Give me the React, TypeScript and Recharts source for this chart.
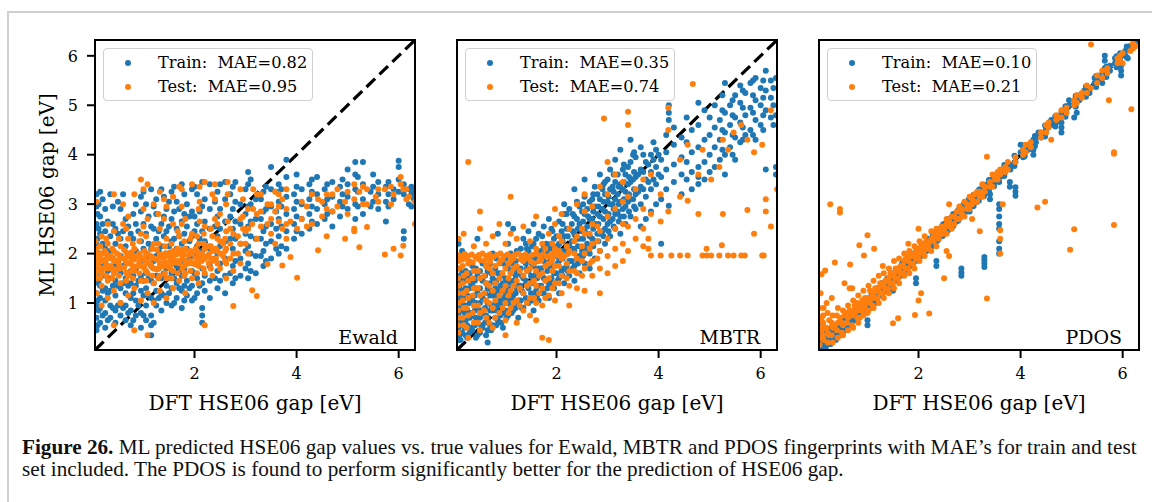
import { ScatterChart, Scatter, XAxis, YAxis, ReferenceLine } from 'recharts';

const BLUE = '#1f77b4';
const ORANGE = '#ff7f0e';
const SERIF = 'DejaVu Serif';

// each entry: [DFT gap, [ML predicted gaps at that DFT gap]]
type Cols = [number, number[]][];

const ewaldTrain: Cols = [
  [0.08, [0.45, 0.7, 0.95, 1.2, 1.5, 1.85, 2.2, 2.6, 2.95, 3.2]],
  [0.1, [0.55, 1.05, 1.6, 2.3, 2.8]],
  [0.12, [0.85, 1.4, 1.7, 2.5, 3.0]],
  [0.15, [0.6, 0.9, 1.1, 1.35, 1.65, 2.0, 2.4, 2.75, 3.25]],
  [0.2, [0.75, 1.25, 1.75, 2.2, 2.6, 3.1]],
  [0.25, [0.5, 0.8, 1.05, 1.3, 1.55, 1.8, 2.1, 2.45, 2.9]],
  [0.3, [0.65, 1.2, 1.65, 1.95, 2.65]],
  [0.35, [0.7, 0.95, 1.25, 1.5, 1.7, 2.05, 2.35, 3.2]],
  [0.4, [0.9, 1.35, 1.9, 2.6, 2.95]],
  [0.45, [0.6, 0.85, 1.15, 1.45, 1.75, 2.2, 2.5]],
  [0.5, [0.95, 1.35, 1.85, 2.4, 3.05]],
  [0.55, [0.75, 1.0, 1.3, 1.6, 1.95, 2.3, 2.9]],
  [0.6, [0.9, 1.4, 1.75, 2.45, 3.2]],
  [0.65, [0.65, 0.95, 1.2, 1.5, 1.8, 2.15, 2.7]],
  [0.7, [0.8, 1.35, 1.95, 2.55]],
  [0.75, [0.55, 0.85, 1.1, 1.4, 1.65, 2.0, 2.4]],
  [0.8, [0.65, 1.2, 1.55, 1.9, 2.3, 2.8]],
  [0.85, [0.75, 1.05, 1.35, 1.7, 2.05, 2.6, 3.0]],
  [0.9, [0.95, 1.45, 1.95, 2.45]],
  [0.95, [0.5, 0.8, 1.25, 1.55, 1.85, 2.25, 2.85, 3.15]],
  [1.0, [0.75, 1.15, 1.45, 2.1, 2.6, 3.25]],
  [1.05, [0.65, 0.95, 1.3, 1.6, 1.9, 2.4, 3.0]],
  [1.1, [1.15, 1.5, 2.2, 2.75]],
  [1.15, [0.35, 0.55, 0.75, 1.1, 1.45, 1.75, 2.1, 2.55, 3.3]],
  [1.2, [0.6, 1.05, 1.4, 1.85, 2.5, 2.95]],
  [1.25, [0.95, 1.25, 1.55, 1.95, 2.3, 2.8, 3.1]],
  [1.3, [1.1, 1.7, 2.05, 2.45]],
  [1.35, [0.85, 1.2, 1.5, 1.8, 2.15, 2.6, 3.3]],
  [1.4, [1.15, 1.6, 1.95, 2.35, 2.75, 3.15]],
  [1.45, [1.0, 1.35, 1.7, 2.0, 2.45, 2.9]],
  [1.5, [1.2, 1.5, 2.15, 2.55, 3.05]],
  [1.55, [0.95, 1.3, 1.6, 1.9, 2.25, 2.7, 3.25]],
  [1.6, [1.0, 1.5, 1.85, 2.3, 2.85, 3.35]],
  [1.65, [1.1, 1.4, 1.75, 2.1, 2.5, 3.05]],
  [1.7, [1.3, 1.65, 2.35, 2.9]],
  [1.75, [0.9, 1.25, 1.55, 1.85, 2.2, 2.65, 3.4]],
  [1.8, [1.05, 1.35, 1.7, 2.4, 2.8, 3.2]],
  [1.85, [1.15, 1.45, 1.8, 2.1, 2.55, 3.0]],
  [1.9, [1.3, 1.9, 2.25, 2.75]],
  [1.95, [1.05, 1.35, 1.65, 2.0, 2.35, 2.85, 3.3]],
  [2.0, [1.1, 1.6, 1.95, 2.45, 2.75, 3.35]],
  [2.05, [1.2, 1.5, 1.8, 2.15, 2.6, 3.2]],
  [2.1, [1.35, 1.95, 2.3, 2.85]],
  [2.15, [0.6, 0.75, 0.9, 1.4, 1.7, 2.05, 2.45, 2.95, 3.45]],
  [2.2, [1.25, 1.55, 1.9, 2.25, 2.65, 3.1]],
  [2.3, [1.1, 1.45, 1.75, 2.1, 2.5, 2.9, 3.4]],
  [2.4, [1.5, 1.9, 2.55, 3.05]],
  [2.45, [1.3, 1.65, 2.0, 2.35, 2.75, 3.25]],
  [2.5, [1.45, 1.8, 2.15, 2.5, 2.9, 3.4]],
  [2.6, [1.2, 1.55, 1.9, 2.25, 2.65, 3.1, 3.45]],
  [2.7, [1.6, 2.3, 2.75, 3.2]],
  [2.75, [1.4, 1.75, 2.1, 2.5, 2.9, 3.35]],
  [2.8, [1.5, 1.85, 2.3, 2.65, 3.05, 3.45]],
  [2.9, [1.55, 1.9, 2.2, 2.6, 3.0]],
  [3.0, [1.7, 2.05, 2.4, 2.8, 3.3]],
  [3.05, [1.5, 1.8, 2.15, 2.55, 2.95, 3.4, 3.65]],
  [3.1, [1.65, 2.0, 2.35, 2.65, 3.0, 3.5]],
  [3.2, [1.6, 1.95, 2.3, 2.7, 3.1]],
  [3.3, [1.95, 2.3, 2.7, 3.1]],
  [3.35, [1.75, 2.05, 2.45, 2.85, 3.25]],
  [3.4, [1.85, 2.2, 2.55, 2.9, 3.35]],
  [3.5, [1.9, 2.25, 2.6, 2.95, 3.3, 3.75]],
  [3.6, [2.1, 2.5, 2.85, 3.25]],
  [3.65, [2.0, 2.35, 2.7, 3.05, 3.4]],
  [3.7, [2.15, 2.55, 2.95, 3.3]],
  [3.8, [2.1, 2.45, 2.8, 3.15, 3.55, 3.9]],
  [3.95, [2.3, 2.6, 2.9, 3.2]],
  [4.0, [2.45, 2.75, 3.05, 3.35, 3.6]],
  [4.1, [2.4, 2.7, 3.0, 3.3]],
  [4.25, [2.5, 2.8, 3.1, 3.4]],
  [4.3, [2.65, 2.95, 3.25, 3.5]],
  [4.4, [2.6, 2.9, 3.2, 3.55]],
  [4.55, [2.7, 3.0, 3.3]],
  [4.6, [2.8, 3.1, 3.4]],
  [4.7, [2.55, 2.85, 3.15, 3.45]],
  [4.85, [2.75, 3.05, 3.35]],
  [4.9, [2.95, 3.2, 3.5]],
  [5.0, [2.9, 3.15, 3.4, 3.7]],
  [5.15, [2.7, 3.0, 3.3, 3.6, 3.85]],
  [5.2, [2.95, 3.25, 3.55]],
  [5.3, [2.8, 3.1, 3.4, 3.85]],
  [5.45, [2.95, 3.25]],
  [5.5, [3.05, 3.35, 3.6]],
  [5.6, [2.9, 3.2, 3.45]],
  [5.75, [2.65, 3.05, 3.35]],
  [5.8, [2.95, 3.2, 3.45]],
  [5.9, [3.1, 3.3]],
  [6.0, [3.25, 3.5, 3.75, 3.88]],
  [6.1, [2.3, 2.45, 3.2, 3.4]],
  [6.2, [3.0, 3.3]],
  [6.25, [2.95, 3.2, 3.35]],
  [6.3, [3.1, 3.25]],
];

const ewaldTest: Cols = [
  [0.06, [1.55, 1.8, 2.0, 2.25]],
  [0.08, [1.2, 1.5, 1.75, 1.9, 2.1, 3.05]],
  [0.12, [1.65, 1.82, 1.98]],
  [0.15, [1.5, 1.72, 1.92, 2.15]],
  [0.18, [0.95, 1.35, 1.6, 1.85, 2.0, 2.35]],
  [0.24, [1.7, 1.88, 2.05]],
  [0.27, [1.55, 1.78, 2.0, 2.3]],
  [0.3, [1.1, 1.45, 1.7, 1.9, 2.2, 2.6]],
  [0.36, [1.75, 1.95]],
  [0.39, [1.5, 1.7, 1.9, 2.1]],
  [0.42, [0.55, 1.25, 1.6, 1.85, 2.05, 2.45, 3.2]],
  [0.48, [1.68, 1.85, 2.0]],
  [0.52, [1.55, 1.78, 1.97, 2.3]],
  [0.55, [1.0, 1.4, 1.7, 1.9, 2.15]],
  [0.6, [2.6, 3.0]],
  [0.62, [1.72, 1.9, 2.08]],
  [0.66, [1.45, 1.62, 1.83, 2.02, 2.5]],
  [0.7, [1.15, 1.55, 1.8, 1.95, 2.3, 2.75]],
  [0.76, [1.65, 1.85, 2.02]],
  [0.79, [1.5, 1.75, 1.95, 2.2]],
  [0.82, [0.45, 1.3, 1.65, 1.88, 2.1, 3.2]],
  [0.88, [1.75, 1.95]],
  [0.92, [1.6, 1.82, 2.0, 2.25]],
  [0.95, [1.05, 1.45, 1.75, 1.92, 2.4, 3.5]],
  [1.0, [2.55, 2.9, 3.3]],
  [1.02, [1.7, 1.88, 2.05]],
  [1.05, [1.45, 1.65, 1.8, 1.98, 2.35]],
  [1.08, [0.35, 1.2, 1.6, 1.85, 2.0, 2.7, 3.4]],
  [1.14, [1.78, 1.95]],
  [1.17, [1.55, 1.72, 1.92, 2.1]],
  [1.2, [1.0, 1.4, 1.7, 1.9, 2.2, 3.0]],
  [1.26, [1.68, 1.88, 2.08]],
  [1.29, [1.5, 1.7, 1.9, 2.2, 2.8]],
  [1.32, [1.25, 1.55, 1.8, 1.98, 2.5, 3.25]],
  [1.38, [1.75, 1.92]],
  [1.4, [2.7, 3.1]],
  [1.42, [1.6, 1.83, 2.0, 2.15]],
  [1.45, [1.1, 1.5, 1.75, 1.95, 2.3, 2.95]],
  [1.52, [1.7, 1.85, 2.02]],
  [1.55, [1.5, 1.78, 1.95, 2.2]],
  [1.58, [1.3, 1.65, 1.9, 2.05, 2.6, 3.15]],
  [1.64, [1.82, 1.98]],
  [1.67, [1.6, 1.85, 2.1, 2.45]],
  [1.7, [1.45, 1.8, 2.0, 2.35, 3.35]],
  [1.75, [2.6, 2.95, 3.3]],
  [1.76, [1.7, 1.9, 2.08]],
  [1.8, [1.55, 1.75, 1.98, 2.25]],
  [1.82, [1.2, 1.6, 1.85, 2.1, 2.7]],
  [1.88, [1.8, 1.97]],
  [1.92, [1.65, 1.85, 2.05, 2.3]],
  [1.95, [1.5, 1.8, 2.0, 2.4, 3.4]],
  [2.02, [1.78, 1.92, 2.1]],
  [2.05, [1.6, 1.85, 2.05, 2.35]],
  [2.08, [1.4, 1.75, 1.95, 2.2, 2.9]],
  [2.1, [2.65, 3.05, 3.35]],
  [2.14, [1.85, 2.0]],
  [2.18, [1.7, 1.95, 2.2, 2.4]],
  [2.2, [0.55, 1.6, 1.9, 2.1, 2.55, 3.45]],
  [2.28, [1.8, 1.98, 2.15]],
  [2.32, [1.7, 1.9, 2.15, 2.5]],
  [2.35, [1.55, 1.85, 2.05, 2.35, 3.2]],
  [2.4, [2.7, 3.1, 3.4]],
  [2.42, [1.9, 2.1]],
  [2.45, [1.8, 2.05, 2.3, 2.6]],
  [2.5, [1.7, 2.0, 2.25, 2.8]],
  [2.56, [1.95, 2.2]],
  [2.6, [1.85, 2.05, 2.3]],
  [2.62, [1.5, 1.8, 2.1, 2.45, 3.0]],
  [2.65, [2.65, 3.2, 3.45]],
  [2.7, [1.9, 2.2, 2.5]],
  [2.76, [0.94, 1.65, 2.0, 2.4]],
  [2.85, [2.0, 2.35]],
  [2.9, [1.8, 2.2, 2.7, 3.3]],
  [2.95, [2.5, 2.75, 3.1]],
  [3.0, [2.2, 2.45]],
  [3.05, [2.0, 2.5, 2.9]],
  [3.13, [1.26, 2.6]],
  [3.15, [2.9, 3.3]],
  [3.22, [1.14, 2.3, 2.8, 3.2]],
  [3.3, [2.55, 2.85, 3.2]],
  [3.43, [1.79, 2.6, 3.0]],
  [3.5, [2.4, 2.7, 3.0]],
  [3.58, [2.2, 2.85, 3.25]],
  [3.65, [2.65, 2.95, 3.2]],
  [3.72, [1.76, 2.5, 3.1]],
  [3.8, [2.3, 2.6, 2.9, 3.3]],
  [3.88, [1.93, 2.65]],
  [4.01, [1.51, 2.5]],
  [4.1, [2.7, 3.05]],
  [4.2, [2.55, 2.95]],
  [4.3, [2.6, 3.2]],
  [4.42, [2.07, 3.1]],
  [4.5, [2.75, 3.05]],
  [4.59, [2.35, 2.9, 3.2]],
  [4.7, [2.85, 3.2]],
  [4.8, [2.95, 3.3]],
  [4.95, [2.3, 3.05]],
  [5.0, [2.8, 3.25]],
  [5.13, [2.45, 2.5, 3.1, 3.4]],
  [5.23, [2.13, 3.25]],
  [5.3, [3.0, 3.35]],
  [5.38, [2.54, 3.0, 3.3]],
  [5.55, [3.15]],
  [5.6, [3.05, 3.3]],
  [5.73, [1.98, 3.3]],
  [5.85, [3.0, 3.35]],
  [5.9, [2.1, 3.2]],
  [6.04, [1.96, 3.4, 3.55]],
  [6.09, [2.16, 3.3]],
  [6.15, [3.1, 3.3]],
  [6.2, [3.15]],
  [6.32, [2.6, 3.05]],
];

const mbtrTrain: Cols = [
  [0.06, [0.3, 0.6, 0.9, 1.2, 1.55, 1.9]],
  [0.08, [0.25, 0.5, 0.8, 1.1, 1.4, 2.2]],
  [0.1, [0.35, 0.7, 1.0, 1.3, 1.7]],
  [0.12, [0.25, 0.55, 0.85, 1.15, 1.5]],
  [0.15, [0.4, 0.65, 0.95, 1.25, 1.6, 2.05]],
  [0.2, [0.5, 0.8, 1.1, 1.45]],
  [0.22, [0.35, 0.65, 0.95, 1.3, 1.65]],
  [0.25, [0.3, 0.55, 0.85, 1.15, 1.5]],
  [0.3, [0.4, 0.7, 1.0, 1.3, 1.6]],
  [0.32, [0.5, 0.8, 1.1, 1.4]],
  [0.35, [0.45, 0.75, 1.05, 1.35, 1.75]],
  [0.4, [0.55, 0.85, 1.15, 1.45]],
  [0.42, [0.3, 0.7, 1.0, 1.3, 1.7]],
  [0.45, [0.35, 0.6, 0.9, 1.2, 1.55, 2.3]],
  [0.5, [0.4, 0.7, 1.0, 1.3, 1.65]],
  [0.52, [0.55, 0.85, 1.15, 1.5]],
  [0.55, [0.5, 0.8, 1.1, 1.45, 1.8]],
  [0.6, [0.6, 0.9, 1.2, 1.55]],
  [0.62, [0.35, 0.75, 1.05, 1.4, 1.75]],
  [0.65, [0.2, 0.45, 0.7, 1.0, 1.3, 1.65]],
  [0.7, [0.55, 0.85, 1.15, 1.4, 1.8]],
  [0.72, [0.45, 0.95, 1.25, 1.6]],
  [0.75, [0.55, 0.85, 1.15, 1.5, 2.0]],
  [0.8, [0.7, 1.0, 1.3, 1.7]],
  [0.82, [0.55, 0.85, 1.15, 1.45, 1.9]],
  [0.85, [0.65, 0.95, 1.25, 1.6, 2.4]],
  [0.9, [0.75, 1.05, 1.35, 1.6]],
  [0.92, [0.6, 0.95, 1.25, 1.55]],
  [0.95, [0.5, 0.8, 1.1, 1.4, 1.8]],
  [1.0, [0.85, 1.2, 1.5, 1.9]],
  [1.02, [0.7, 1.05, 1.4, 1.75]],
  [1.05, [0.75, 1.0, 1.3, 1.7, 2.2, 2.6]],
  [1.1, [0.95, 1.25, 1.6, 2.0]],
  [1.12, [0.8, 1.1, 1.4, 1.8]],
  [1.15, [0.85, 1.15, 1.45, 1.9, 2.5]],
  [1.2, [0.9, 1.2, 1.55, 1.85]],
  [1.22, [0.95, 1.3, 1.65, 2.05]],
  [1.25, [0.7, 1.05, 1.35, 1.6, 2.0]],
  [1.3, [1.05, 1.35, 1.7, 2.1]],
  [1.32, [0.9, 1.25, 1.55, 1.95]],
  [1.35, [0.9, 1.2, 1.5, 1.85, 2.3]],
  [1.4, [1.1, 1.45, 1.8, 2.2]],
  [1.42, [1.0, 1.35, 1.7, 2.1]],
  [1.45, [1.0, 1.3, 1.65, 2.05, 2.45]],
  [1.5, [1.2, 1.55, 1.9]],
  [1.52, [1.05, 1.4, 1.8, 2.15]],
  [1.55, [0.85, 1.15, 1.5, 1.75, 2.2, 2.6]],
  [1.6, [1.25, 1.6, 1.9, 2.3]],
  [1.62, [1.15, 1.5, 1.85]],
  [1.65, [1.05, 1.35, 1.7, 2.0, 2.4]],
  [1.7, [1.35, 1.7, 2.05]],
  [1.72, [1.2, 1.55, 1.95, 2.35]],
  [1.75, [1.2, 1.5, 1.85, 2.15, 2.55]],
  [1.8, [1.45, 1.8, 2.2]],
  [1.82, [1.3, 1.65, 2.0]],
  [1.85, [1.1, 1.4, 1.75, 2.1, 2.7]],
  [1.9, [1.5, 1.85, 2.2, 2.5]],
  [1.92, [1.4, 1.75, 2.1, 2.45]],
  [1.95, [1.3, 1.6, 1.95, 2.3]],
  [2.0, [1.6, 1.95, 2.35]],
  [2.02, [1.45, 1.8, 2.15]],
  [2.05, [1.2, 1.5, 1.85, 2.2, 2.65]],
  [2.1, [1.65, 2.05, 2.45]],
  [2.12, [1.55, 1.9, 2.25, 2.6]],
  [2.15, [1.4, 1.7, 2.0, 2.35, 2.8, 3.0]],
  [2.2, [1.75, 2.1, 2.5, 2.8]],
  [2.22, [1.65, 2.0, 2.35]],
  [2.25, [1.55, 1.85, 2.15, 2.5, 2.9]],
  [2.3, [1.85, 2.25, 2.6]],
  [2.32, [1.7, 2.1, 2.45, 2.8]],
  [2.35, [1.45, 1.75, 2.05, 2.4, 2.75, 3.3]],
  [2.4, [1.9, 2.3, 2.7, 3.05]],
  [2.42, [1.8, 2.15, 2.5]],
  [2.45, [1.6, 1.95, 2.3, 2.6, 2.95]],
  [2.5, [2.05, 2.45, 2.85]],
  [2.52, [1.95, 2.3, 2.65, 3.0]],
  [2.55, [1.8, 2.1, 2.45, 2.8, 3.15, 3.5]],
  [2.6, [2.2, 2.55, 2.9]],
  [2.62, [2.05, 2.4, 2.75]],
  [2.65, [1.7, 2.0, 2.35, 2.7, 3.05]],
  [2.7, [2.3, 2.7, 3.1]],
  [2.72, [2.15, 2.5, 2.85, 3.2]],
  [2.75, [1.9, 2.25, 2.6, 2.95, 3.35]],
  [2.8, [2.4, 2.8, 3.2]],
  [2.82, [2.25, 2.6, 2.95]],
  [2.85, [2.05, 2.4, 2.75, 3.1, 3.6]],
  [2.9, [2.45, 2.9, 3.3]],
  [2.92, [2.35, 2.7, 3.05, 3.4]],
  [2.95, [2.2, 2.5, 2.85, 3.2, 3.45]],
  [3.0, [2.6, 3.05, 3.5]],
  [3.02, [2.45, 2.8, 3.15]],
  [3.05, [2.35, 2.65, 3.0, 3.3, 3.7]],
  [3.1, [2.7, 3.0, 3.35]],
  [3.12, [2.55, 2.9, 3.25, 3.6]],
  [3.15, [2.5, 2.8, 3.1, 3.45, 3.9]],
  [3.2, [2.85, 3.2, 3.6]],
  [3.22, [2.65, 3.0, 3.35]],
  [3.25, [2.4, 2.75, 3.05, 3.4, 4.1]],
  [3.3, [2.9, 3.3, 3.7]],
  [3.32, [2.75, 3.1, 3.45, 3.8]],
  [3.35, [2.6, 2.95, 3.25, 3.6]],
  [3.4, [3.05, 3.4, 3.75]],
  [3.42, [2.85, 3.2, 3.55]],
  [3.45, [2.75, 3.1, 3.45, 3.85, 4.3]],
  [3.5, [3.1, 3.5, 4.0]],
  [3.52, [2.95, 3.3, 3.65, 4.05]],
  [3.55, [2.9, 3.2, 3.55, 3.95]],
  [3.6, [3.25, 3.6]],
  [3.65, [2.55, 3.0, 3.35, 3.7, 4.15]],
  [3.7, [3.3, 3.65, 4.0]],
  [3.75, [2.7, 3.15, 3.5, 3.85]],
  [3.8, [3.45, 3.8]],
  [3.85, [2.85, 3.3, 3.65, 4.0]],
  [3.9, [3.5, 3.9, 4.25]],
  [3.95, [3.0, 3.4, 3.75, 4.1]],
  [4.0, [3.6, 4.0]],
  [4.05, [2.2, 3.1, 3.55, 3.9]],
  [4.15, [3.3, 3.7, 4.05, 4.4]],
  [4.2, [2.97, 4.7, 4.85, 5.0]],
  [4.3, [3.45, 3.8, 4.2, 4.55]],
  [4.45, [3.2, 3.6, 3.95, 4.35]],
  [4.55, [3.5, 3.85, 4.25, 4.75]],
  [4.65, [3.3, 3.65, 4.05, 4.5]],
  [4.78, [3.41, 3.55, 3.75, 4.15, 4.6, 5.05]],
  [4.9, [3.5, 3.85, 4.3, 4.9]],
  [5.0, [3.65, 4.0, 4.4, 4.75]],
  [5.1, [3.75, 4.15, 4.55, 5.0]],
  [5.2, [3.9, 4.3, 4.7]],
  [5.25, [4.1, 4.5, 4.9, 5.2]],
  [5.3, [3.6, 4.0, 4.45, 4.85, 5.45]],
  [5.4, [4.15, 4.6, 5.0]],
  [5.45, [4.0, 4.4, 4.8, 5.1]],
  [5.5, [3.9, 4.35, 4.75, 5.2]],
  [5.6, [4.25, 4.65, 5.05, 5.4]],
  [5.65, [4.3, 4.55, 4.95, 5.3]],
  [5.7, [4.4, 4.8, 5.25]],
  [5.8, [4.5, 4.95, 5.45]],
  [5.85, [4.4, 4.85, 5.2, 5.5]],
  [5.9, [4.3, 4.7, 5.1, 5.55]],
  [6.0, [4.6, 5.0, 5.35]],
  [6.05, [4.5, 4.8, 5.15, 5.5]],
  [6.1, [3.7, 4.9, 5.3, 5.7]],
  [6.2, [4.75, 5.15, 5.5]],
  [6.25, [4.6, 5.0, 5.35]],
  [6.3, [3.6, 3.75, 4.8, 5.55]],
];

const mbtrTest: Cols = [
  [0.06, [1.97]],
  [0.07, [0.55, 0.85, 1.2, 1.5, 1.85]],
  [0.08, [0.4, 0.7, 1.0, 1.35, 1.7, 2.3]],
  [0.1, [1.86]],
  [0.13, [1.94]],
  [0.16, [0.7, 1.05, 1.4, 1.75, 1.88]],
  [0.18, [0.55, 0.9, 1.2, 1.55, 2.4]],
  [0.2, [1.99]],
  [0.24, [0.5, 0.9, 1.25, 1.6, 1.9]],
  [0.27, [0.3, 0.75, 1.1, 1.45, 1.8, 1.95, 3.85]],
  [0.3, [1.84]],
  [0.34, [1.98]],
  [0.36, [0.8, 1.15, 1.5, 1.82]],
  [0.38, [0.6, 0.95, 1.3, 1.65, 2.15]],
  [0.41, [1.93]],
  [0.46, [0.6, 0.95, 1.3, 1.65, 1.9]],
  [0.48, [1.97]],
  [0.5, [0.45, 0.8, 1.15, 1.5, 1.87, 2.5, 2.85]],
  [0.55, [2.0]],
  [0.58, [0.85, 1.2, 1.55, 1.85]],
  [0.62, [0.7, 1.05, 1.4, 1.75, 1.95, 2.2]],
  [0.68, [0.6, 1.0, 1.35, 1.7, 1.9]],
  [0.69, [1.98]],
  [0.7, [1.83]],
  [0.75, [0.5, 0.9, 1.25, 1.6, 2.35]],
  [0.76, [1.93]],
  [0.8, [0.7, 1.05, 1.4, 1.75]],
  [0.83, [1.97]],
  [0.88, [0.8, 1.15, 1.5, 1.8, 2.6]],
  [0.9, [1.86, 2.0]],
  [0.94, [0.9, 1.25, 1.6, 1.88]],
  [0.97, [1.95]],
  [1.0, [0.35, 0.65, 1.0, 1.35, 1.7, 2.2]],
  [1.04, [1.98]],
  [1.06, [0.8, 1.15, 1.5, 1.8]],
  [1.1, [0.9, 1.25, 1.6, 1.85, 2.4, 3.15]],
  [1.11, [1.94]],
  [1.16, [1.0, 1.35, 1.7, 1.9]],
  [1.18, [1.97]],
  [1.22, [0.6, 1.05, 1.45, 1.75, 2.3]],
  [1.25, [2.0]],
  [1.28, [0.95, 1.3, 1.65]],
  [1.3, [1.88]],
  [1.32, [1.95]],
  [1.35, [0.85, 1.2, 1.55, 1.85, 2.55]],
  [1.39, [1.98]],
  [1.42, [1.0, 1.35, 1.65, 1.9]],
  [1.46, [1.93]],
  [1.48, [0.75, 1.1, 1.4, 1.7, 2.25]],
  [1.5, [1.84]],
  [1.53, [1.97]],
  [1.56, [1.1, 1.45, 1.8]],
  [1.6, [0.65, 1.0, 1.35, 1.65, 2.0, 2.1, 2.75]],
  [1.66, [1.2, 1.55, 1.85]],
  [1.67, [1.95]],
  [1.7, [1.87]],
  [1.72, [0.3, 0.95, 1.3, 1.6, 2.2]],
  [1.74, [1.98]],
  [1.78, [1.1, 1.45, 1.75, 2.1]],
  [1.81, [1.94]],
  [1.85, [0.25, 1.15, 1.5, 1.8, 2.4]],
  [1.88, [1.97]],
  [1.9, [1.85]],
  [1.92, [1.3, 1.65, 1.9, 2.2]],
  [1.95, [2.01]],
  [1.97, [1.05, 1.4, 1.75, 2.1, 2.6, 2.9]],
  [2.02, [1.96]],
  [2.05, [1.4, 1.75, 2.05, 2.35]],
  [2.09, [1.99]],
  [2.1, [1.2, 1.55, 1.9, 2.25, 2.8]],
  [2.16, [1.95]],
  [2.2, [1.5, 1.8, 2.15]],
  [2.23, [2.0]],
  [2.25, [0.95, 1.35, 1.65, 2.05, 2.5]],
  [2.35, [1.65, 2.0, 2.25]],
  [2.4, [1.3, 1.6, 1.9, 2.35, 3.0]],
  [2.5, [1.55, 1.85, 2.15, 2.5]],
  [2.55, [1.25, 1.7, 2.0, 2.4, 2.85, 3.2]],
  [2.65, [1.8, 2.1, 2.4]],
  [2.7, [1.55, 1.85, 2.2, 2.6, 2.95]],
  [2.8, [1.9, 2.25, 2.55]],
  [2.85, [1.2, 1.7, 2.05, 2.45, 3.35]],
  [2.93, [4.73]],
  [3.0, [1.6, 1.95, 2.3, 2.75, 3.2, 3.85]],
  [3.15, [1.75, 2.1, 2.5, 2.9, 3.6]],
  [3.3, [1.85, 2.2, 2.6, 3.05, 3.45]],
  [3.4, [2.05, 2.55, 3.15, 4.6, 4.87]],
  [3.55, [2.3, 2.7, 3.3]],
  [3.7, [2.15, 2.5, 2.9, 3.5]],
  [3.8, [2.1, 2.3]],
  [3.85, [1.96, 2.8, 3.6]],
  [4.04, [1.96, 2.65, 3.2]],
  [4.19, [2.85, 4.5, 4.95]],
  [4.25, [1.96]],
  [4.42, [1.96, 3.15, 3.9]],
  [4.57, [1.96, 3.07, 4.2]],
  [4.67, [5.43]],
  [4.78, [2.8, 3.6]],
  [4.86, [1.96, 4.1]],
  [4.94, [1.96, 2.1]],
  [5.03, [1.96, 3.5]],
  [5.19, [1.96, 3.75]],
  [5.24, [2.17]],
  [5.26, [2.8, 4.3]],
  [5.36, [1.96, 4.1]],
  [5.47, [1.96, 4.45]],
  [5.62, [1.96, 4.6]],
  [5.69, [1.96]],
  [5.74, [2.88, 4.3]],
  [5.87, [2.4, 4.05]],
  [6.03, [1.96, 4.2]],
  [6.06, [1.96]],
  [6.1, [2.85, 3.1]],
  [6.2, [2.55, 4.9]],
  [6.32, [3.3]],
];

const pdosTrain: Cols = [
  [0.08, [0.12, 0.35, 0.6]],
  [0.12, [0.2, 0.45, 0.55]],
  [0.15, [0.2, 0.3]],
  [0.18, [0.1, 0.27]],
  [0.2, [0.15, 0.3, 0.4]],
  [0.25, [0.25, 0.45]],
  [0.28, [0.17, 0.39]],
  [0.3, [0.25, 0.5]],
  [0.35, [0.3, 0.4]],
  [0.38, [0.25, 0.5]],
  [0.4, [0.4, 0.55]],
  [0.45, [0.35, 0.5]],
  [0.48, [0.37, 0.6]],
  [0.5, [0.45, 0.6]],
  [0.55, [0.5, 0.65]],
  [0.58, [0.45, 0.69]],
  [0.6, [0.55, 0.7]],
  [0.65, [0.55, 0.7]],
  [0.68, [0.57, 0.8]],
  [0.7, [0.65, 0.8]],
  [0.75, [0.65, 0.8]],
  [0.78, [0.66, 0.9]],
  [0.8, [0.75, 0.9]],
  [0.85, [0.75, 0.9]],
  [0.88, [0.77, 0.99]],
  [0.9, [0.85, 0.95]],
  [0.95, [0.85, 1.0]],
  [0.98, [0.87, 1.09]],
  [1.0, [0.55, 0.65, 0.9, 1.05]],
  [1.05, [0.9, 1.1]],
  [1.08, [0.96, 1.19]],
  [1.1, [1.05, 1.2]],
  [1.15, [1.0, 1.15]],
  [1.18, [1.05, 1.29]],
  [1.2, [1.15, 1.3]],
  [1.25, [1.15, 1.3]],
  [1.28, [1.17, 1.4]],
  [1.3, [1.2, 1.35]],
  [1.35, [1.25, 1.4]],
  [1.38, [1.27, 1.48]],
  [1.4, [1.35, 1.5]],
  [1.45, [1.35, 1.5]],
  [1.48, [1.35, 1.59]],
  [1.5, [1.25, 1.45, 1.6]],
  [1.55, [1.45, 1.6]],
  [1.58, [1.47, 1.68]],
  [1.6, [1.55, 1.7]],
  [1.65, [1.55, 1.7]],
  [1.68, [1.56, 1.8]],
  [1.7, [1.65, 1.8]],
  [1.75, [1.65, 1.8]],
  [1.78, [1.67, 1.88]],
  [1.8, [1.75, 1.85]],
  [1.85, [1.75, 1.9]],
  [1.88, [1.76, 1.99]],
  [1.9, [1.85, 2.0]],
  [1.95, [1.4, 1.5, 1.85]],
  [1.98, [1.87, 2.08]],
  [2.0, [1.95, 2.1]],
  [2.05, [1.95, 2.1]],
  [2.08, [1.96, 2.2]],
  [2.1, [2.05, 2.15]],
  [2.15, [2.05, 2.2]],
  [2.18, [2.07, 2.28]],
  [2.2, [2.15, 2.3]],
  [2.25, [2.15, 2.3]],
  [2.28, [2.16, 2.39]],
  [2.3, [2.25, 2.4]],
  [2.35, [1.75, 1.85, 2.25]],
  [2.38, [2.27, 2.49]],
  [2.4, [2.35, 2.45]],
  [2.45, [2.35, 2.5]],
  [2.48, [2.36, 2.59]],
  [2.5, [2.45, 2.6]],
  [2.55, [2.45, 2.6]],
  [2.58, [2.47, 2.68]],
  [2.6, [2.55, 2.7]],
  [2.65, [2.55, 2.7]],
  [2.68, [2.56, 2.8]],
  [2.7, [2.65, 2.75]],
  [2.75, [2.65, 2.8]],
  [2.78, [2.67, 2.88]],
  [2.84, [1.55, 1.62, 1.7, 2.85]],
  [2.85, [2.75, 2.9]],
  [2.88, [2.76, 2.99]],
  [2.9, [2.85, 2.95]],
  [2.95, [2.85, 3.0]],
  [2.98, [2.87, 3.09]],
  [3.0, [2.85, 3.1]],
  [3.05, [2.95, 3.1]],
  [3.08, [2.96, 3.19]],
  [3.1, [3.05, 3.15]],
  [3.15, [3.05, 3.2]],
  [3.18, [3.07, 3.28]],
  [3.2, [3.15, 3.3]],
  [3.28, [3.16, 3.39]],
  [3.29, [1.73, 1.8, 1.87, 1.93, 3.2]],
  [3.3, [3.25, 3.35]],
  [3.35, [3.25, 3.4]],
  [3.38, [3.27, 3.49]],
  [3.4, [3.1, 3.2, 3.45]],
  [3.45, [3.4, 3.5]],
  [3.48, [3.36, 3.58]],
  [3.5, [3.45, 3.55]],
  [3.58, [2.0, 2.1, 2.25, 2.5, 2.6, 2.75, 2.9, 3.0, 3.45]],
  [3.6, [3.55, 3.65]],
  [3.65, [3.6, 3.7]],
  [3.68, [3.57, 3.79]],
  [3.7, [3.65, 3.75]],
  [3.79, [3.35, 3.45]],
  [3.8, [3.7, 3.8]],
  [3.88, [3.77, 3.98]],
  [3.9, [3.17, 3.25, 3.34, 3.85, 3.95]],
  [4.0, [4.05, 4.2]],
  [4.05, [3.95, 4.1]],
  [4.08, [3.97, 4.19]],
  [4.15, [4.1, 4.2]],
  [4.25, [4.0, 4.1, 4.3]],
  [4.28, [4.17, 4.38]],
  [4.3, [4.25, 4.35]],
  [4.35, [4.45]],
  [4.4, [4.35, 4.45]],
  [4.48, [4.37, 4.59]],
  [4.5, [4.5, 4.55]],
  [4.6, [4.6, 4.7]],
  [4.68, [4.57, 4.78]],
  [4.7, [4.65, 4.75]],
  [4.8, [4.45, 4.55, 4.65, 4.85]],
  [4.85, [4.8, 4.9]],
  [4.88, [4.77, 4.98]],
  [4.95, [5.0, 5.1]],
  [5.05, [4.75, 5.1]],
  [5.08, [4.97, 5.19]],
  [5.1, [4.85, 5.15]],
  [5.15, [5.1, 5.2]],
  [5.25, [5.2, 5.3]],
  [5.28, [5.17, 5.38]],
  [5.35, [5.25, 5.35]],
  [5.45, [5.45, 5.55]],
  [5.48, [5.37, 5.59]],
  [5.55, [5.5, 5.6]],
  [5.6, [5.45, 5.55]],
  [5.65, [5.75, 5.9, 6.0]],
  [5.68, [5.57, 5.78]],
  [5.75, [5.7, 5.8]],
  [5.85, [5.85, 5.95]],
  [5.88, [5.77, 5.99]],
  [5.95, [5.95, 6.05]],
  [5.97, [5.6, 5.7, 5.8]],
  [6.05, [6.0, 6.1]],
  [6.08, [5.97, 6.19]],
  [6.1, [5.95, 6.15]],
  [6.15, [6.2]],
  [6.25, [6.2, 6.25]],
];

const pdosTest: Cols = [
  [0.06, [0.15, 0.3, 0.9]],
  [0.08, [0.5, 0.65, 1.2]],
  [0.1, [0.45, 0.7, 1.58]],
  [0.13, [0.35, 0.6, 0.75]],
  [0.14, [0.25, 0.9]],
  [0.17, [0.5, 1.66]],
  [0.2, [0.5, 1.0]],
  [0.22, [0.2, 0.4, 0.8]],
  [0.25, [0.35, 0.65]],
  [0.27, [3.0]],
  [0.3, [0.35, 0.6, 1.1]],
  [0.32, [0.2, 0.5, 0.75]],
  [0.36, [0.55, 1.82]],
  [0.4, [0.45, 0.75]],
  [0.42, [0.3, 0.6, 0.9]],
  [0.46, [0.7, 2.83, 2.9]],
  [0.5, [0.4, 0.6]],
  [0.52, [0.35, 0.55, 0.85]],
  [0.55, [0.75, 1.4]],
  [0.6, [0.6, 0.8]],
  [0.62, [0.45, 0.7, 0.95]],
  [0.65, [0.85, 1.3]],
  [0.66, [1.78]],
  [0.7, [0.55, 0.75, 1.3]],
  [0.72, [0.5, 0.85, 1.05]],
  [0.75, [0.8, 0.95]],
  [0.8, [0.7, 1.0]],
  [0.82, [0.6, 0.85, 1.15]],
  [0.84, [2.17]],
  [0.85, [0.7, 0.95]],
  [0.9, [0.85, 1.05]],
  [0.92, [0.75, 1.0, 1.25]],
  [0.93, [1.96]],
  [0.95, [0.9, 1.1]],
  [1.0, [0.8, 1.0, 2.37]],
  [1.02, [0.85, 1.1, 1.35]],
  [1.05, [1.05, 1.25]],
  [1.1, [0.95, 1.15]],
  [1.12, [0.9, 1.2, 1.45]],
  [1.13, [2.1]],
  [1.15, [1.1, 1.3]],
  [1.2, [1.1, 1.25]],
  [1.22, [1.0, 1.3, 1.55]],
  [1.25, [1.2, 1.4]],
  [1.3, [1.2, 1.35, 1.75]],
  [1.32, [1.1, 1.4, 1.6]],
  [1.35, [1.3, 1.45]],
  [1.4, [1.3, 1.45]],
  [1.42, [1.2, 1.5, 1.7]],
  [1.45, [1.4, 1.6]],
  [1.5, [0.59, 1.4, 1.55]],
  [1.52, [1.3, 1.6, 1.85]],
  [1.55, [1.5, 1.7]],
  [1.6, [0.69, 1.5, 1.65]],
  [1.62, [1.4, 1.7, 1.9]],
  [1.65, [1.6, 1.75]],
  [1.7, [1.6, 1.75]],
  [1.72, [1.55, 1.85, 2.0]],
  [1.75, [1.7, 1.9]],
  [1.8, [1.7, 1.85, 2.2]],
  [1.82, [1.6, 1.95, 2.05]],
  [1.85, [1.8, 1.95]],
  [1.9, [1.8, 1.95]],
  [1.92, [1.7, 2.0, 2.15]],
  [1.93, [0.76]],
  [1.95, [1.9, 2.05]],
  [2.0, [1.05, 1.9, 2.0, 2.5]],
  [2.02, [1.85, 2.1, 2.25]],
  [2.05, [1.2, 2.05, 2.2]],
  [2.1, [2.0, 2.15]],
  [2.12, [1.95, 2.2, 2.35]],
  [2.15, [2.1, 2.25]],
  [2.2, [2.1, 2.2]],
  [2.21, [0.79]],
  [2.25, [2.05, 2.3, 2.45]],
  [2.3, [2.25, 2.35]],
  [2.35, [2.15, 2.4, 2.5]],
  [2.4, [2.3, 2.45]],
  [2.45, [2.4, 2.55]],
  [2.5, [1.5, 2.4, 2.5]],
  [2.55, [2.05, 2.4, 2.6, 2.7]],
  [2.6, [1.95, 2.55, 2.65, 3.0]],
  [2.65, [2.5, 2.75]],
  [2.7, [2.6, 2.75]],
  [2.75, [2.7, 2.85]],
  [2.8, [2.7, 2.95]],
  [2.85, [2.8, 2.9]],
  [2.9, [2.75, 3.05]],
  [2.95, [2.9, 3.0]],
  [3.0, [2.9, 3.15]],
  [3.05, [2.7, 3.0, 3.1]],
  [3.1, [3.05, 3.2]],
  [3.15, [3.05, 3.25]],
  [3.2, [2.45, 3.15, 3.25]],
  [3.25, [3.15, 3.4]],
  [3.3, [3.25, 3.35]],
  [3.34, [1.09, 3.96]],
  [3.4, [3.35, 3.45]],
  [3.45, [3.35, 3.6]],
  [3.5, [3.5, 3.55]],
  [3.55, [3.5, 3.65]],
  [3.6, [2.0, 2.3, 2.47, 3.6, 3.7]],
  [3.65, [3.0]],
  [3.7, [3.65, 3.75]],
  [3.75, [3.7, 3.85]],
  [3.9, [3.85, 3.95]],
  [4.05, [4.0, 4.1]],
  [4.1, [4.05, 4.2]],
  [4.2, [4.15, 4.25]],
  [4.33, [2.93]],
  [4.4, [4.35, 4.45]],
  [4.48, [3.05]],
  [4.5, [4.45, 4.6]],
  [4.55, [4.55, 4.65]],
  [4.6, [4.3]],
  [4.7, [4.7, 4.8]],
  [4.8, [4.75, 4.9]],
  [4.9, [4.85, 4.95]],
  [4.97, [2.08]],
  [5.05, [2.49, 5.0, 5.1]],
  [5.1, [5.05, 5.2]],
  [5.2, [5.15, 5.25]],
  [5.3, [5.25, 5.4]],
  [5.38, [5.35, 6.23]],
  [5.5, [5.45, 5.6]],
  [5.6, [5.55, 5.7]],
  [5.7, [5.65, 5.75]],
  [5.73, [5.1]],
  [5.83, [2.58, 4.02, 4.05]],
  [5.9, [5.85, 5.95]],
  [5.95, [5.9, 6.0]],
  [6.0, [5.85, 6.05]],
  [6.15, [6.1]],
  [6.17, [4.92]],
  [6.2, [6.15, 6.25]],
  [6.25, [6.2]],
];

const xTicks = [2, 4, 6];
const yTicks = [1, 2, 3, 4, 5, 6];
const axisDomain: [number, number] = [0.05, 6.32];

const panels = [
  { name: 'Ewald', plotLeft: 95, train: ewaldTrain, test: ewaldTest, trainMae: '0.82', testMae: '0.95' },
  { name: 'MBTR', plotLeft: 457, train: mbtrTrain, test: mbtrTest, trainMae: '0.35', testMae: '0.74' },
  { name: 'PDOS', plotLeft: 819, train: pdosTrain, test: pdosTest, trainMae: '0.10', testMae: '0.21' },
];

const PLOT_W = 320;
const PLOT_H = 310;
const PLOT_TOP = 40;
const Y_AXIS_W = 96;

const toPoints = (cols: Cols) => cols.flatMap(([x, ys]) => ys.map((y) => ({ x, y })));

const dot = (color: string) => (p: any) => <circle cx={p.cx} cy={p.cy} r={3} fill={color} />;

const textStyle = (size: number) => ({ fontFamily: SERIF, fontSize: size, fill: '#000' });

const XTick = ({ x, y, payload }: any) => (
  <text x={x} y={y} dy="0.71em" textAnchor="middle" style={textStyle(16)}>
    {payload.value}
  </text>
);

const YTick = ({ x, y, payload }: any) => (
  <text x={x} y={y} dy="0.36em" textAnchor="end" style={textStyle(16)}>
    {payload.value}
  </text>
);

const XTitle = ({ viewBox }: any) => (
  <text x={viewBox.x + viewBox.width / 2} y={viewBox.y + viewBox.height - 10} textAnchor="middle" style={textStyle(20)}>
    DFT HSE06 gap [eV]
  </text>
);

const YTitle = ({ viewBox }: any) => {
  const cx = viewBox.x + viewBox.width / 2;
  const cy = viewBox.y + viewBox.height / 2;
  return (
    <text x={cx} y={cy} dy="0.36em" textAnchor="middle" transform={`rotate(-90 ${cx} ${cy})`} style={textStyle(20)}>
      ML HSE06 gap [eV]
    </text>
  );
};

function Panel({ idx, name, plotLeft, train, test, trainMae, testMae }: any) {
  return (
    <>
      <div style={{ position: 'absolute', left: plotLeft - Y_AXIS_W, top: 0 }}>
        <ScatterChart
          width={Y_AXIS_W + PLOT_W + 15}
          height={420}
          margin={{ top: PLOT_TOP, right: 15, bottom: 0, left: 0 }}
        >
          <XAxis
            type="number"
            dataKey="x"
            domain={axisDomain}
            ticks={xTicks}
            allowDataOverflow
            axisLine={false}
            tickLine={{ stroke: '#000', strokeWidth: 2 }}
            tickSize={8}
            tickMargin={10}
            tick={<XTick />}
            height={70}
            label={(props: any) => <XTitle {...props} />}
          />
          <YAxis
            type="number"
            dataKey="y"
            domain={axisDomain}
            ticks={yTicks}
            allowDataOverflow
            axisLine={false}
            tickLine={{ stroke: '#000', strokeWidth: 2 }}
            tickSize={8}
            tickMargin={9}
            tick={idx === 0 ? <YTick /> : false}
            width={Y_AXIS_W}
            label={idx === 0 ? (props: any) => <YTitle {...props} /> : undefined}
          />
          <Scatter data={toPoints(train)} fill={BLUE} shape={dot(BLUE)} isAnimationActive={false} />
          <Scatter data={toPoints(test)} fill={ORANGE} shape={dot(ORANGE)} isAnimationActive={false} />
          <ReferenceLine
            segment={[{ x: axisDomain[0], y: axisDomain[0] }, { x: axisDomain[1], y: axisDomain[1] }]}
            stroke="#000"
            strokeWidth={3.2}
            strokeDasharray="12 6"
          />
        </ScatterChart>
      </div>
      {/* axes frame */}
      <div
        style={{
          position: 'absolute', left: plotLeft - 1, top: PLOT_TOP - 1, width: PLOT_W + 2, height: PLOT_H + 2,
          border: '2px solid #000', boxSizing: 'border-box', pointerEvents: 'none',
        }}
      />
      {/* legend */}
      <div
        style={{
          position: 'absolute', left: plotLeft + 8, top: 48, width: 210, height: 53, boxSizing: 'border-box',
          border: '1px solid #d0d0d0', borderRadius: 4, background: 'rgba(255,255,255,0.8)',
          fontFamily: SERIF, fontSize: 16.2, color: '#000',
        }}
      >
        {[
          { c: BLUE, t: `Train:  MAE=${trainMae}`, y: 14 },
          { c: ORANGE, t: `Test:  MAE=${testMae}`, y: 38 },
        ].map((r) => (
          <div key={r.t} style={{ position: 'absolute', left: 0, top: r.y - 10, height: 20, width: '100%' }}>
            <svg width={30} height={20} style={{ position: 'absolute', left: 9, top: 0 }}>
              <circle cx={15} cy={10} r={3} fill={r.c} />
            </svg>
            <span style={{ position: 'absolute', left: 54, top: 0, lineHeight: '20px', whiteSpace: 'pre' }}>{r.t}</span>
          </div>
        ))}
      </div>
      <div
        style={{
          position: 'absolute', left: plotLeft + PLOT_W - 217, top: 326, width: 200, textAlign: 'right',
          fontFamily: SERIF, fontSize: 19, lineHeight: '22px', color: '#000',
        }}
      >
        {name}
      </div>
    </>
  );
}

export default function App() {
  return (
    <div style={{ position: 'absolute', left: 0, top: 0, width: 1152, height: 502, background: '#fff', overflow: 'hidden' }}>
      <div
        style={{
          position: 'absolute', left: 7, top: 11, width: 1160, height: 500,
          borderTop: '2px solid #cfcfcf', borderLeft: '2px solid #cfcfcf',
        }}
      />
      {panels.map((p, i) => (
        <Panel key={p.name} idx={i} {...p} />
      ))}
      <div
        style={{
          position: 'absolute', left: 22, top: 436, width: 1128, whiteSpace: 'nowrap',
          fontFamily: '"Liberation Serif", serif', fontSize: 21.2, lineHeight: '22px', color: '#111',
        }}
      >
        <div>
          <b>Figure 26.</b>{' '}ML predicted HSE06 gap values vs. true values for Ewald, MBTR and PDOS fingerprints with MAE’s for train and test
        </div>
        <div>set included. The PDOS is found to perform significantly better for the prediction of HSE06 gap.</div>
      </div>
    </div>
  );
}
